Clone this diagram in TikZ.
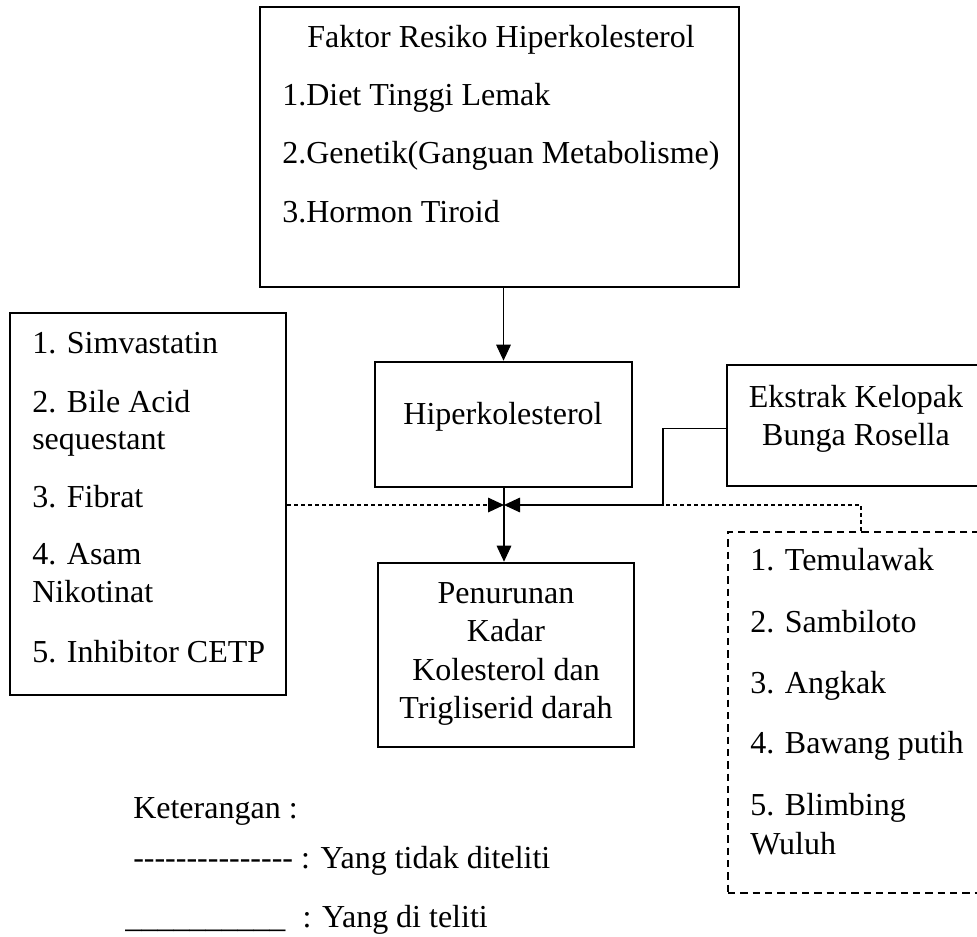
\documentclass[tikz,border=0pt]{standalone}
\usepackage{fontspec}
\setmainfont{Liberation Serif}[Ligatures=TeXOff]
\usetikzlibrary{arrows.meta,fit}
\begin{document}
\begin{tikzpicture}[x=0.75pt,y=-0.75pt,
  box/.style={draw, line width=2pt, inner sep=0pt, rectangle},
  dbox/.style={draw, line width=2pt, inner sep=0pt, rectangle, dash pattern=on 5.5pt off 3.75pt},
  tip/.style={-{Triangle[length=12pt,width=11pt]}},
  conn/.style={line width=0.8pt},
  dconn/.style={line width=0.8pt, dash pattern=on 3pt off 2.25pt},
  txt/.style={font=\fontsize{24}{28.5}\selectfont, inner sep=0pt, anchor=base west},
  ctxt/.style={font=\fontsize{24}{28.5}\selectfont, inner sep=0pt, anchor=base},
]
\useasboundingbox (0,0) rectangle (977,936);
\clip (0,0) rectangle (977,936);

% boxes
\node[box, fit={(260,7) (739,287)}] (top) {};
\node[box, fit={(375,362) (632,487)}] (hip) {};
\node[box, fit={(10,313) (286,695)}] (left) {};
\node[box, fit={(378,563) (634,747)}] (pen) {};
\node[box, fit={(727,365) (985,486)}] (eks) {};
\node[dbox, fit={(728,532) (994,893)}] (dbx) {};

% top box text
\node[ctxt] (t0) at (501,47) {Faktor Resiko Hiperkolesterol};
\node[txt] (t1) at (282,105) {1.Diet Tinggi Lemak};
\node[txt] (t2) at (282,163) {2.Genetik(Ganguan Metabolisme)};
\node[txt] (t3) at (282,222) {3.Hormon Tiroid};

% hiperkolesterol
\node[ctxt] (h0) at (503,424) {Hiperkolesterol};

% left box text
\node[txt] (l1) at (32,353) {1. Simvastatin};
\node[txt] (l2) at (32,412) {2. Bile Acid};
\node[txt] (l2b) at (32,449) {sequestant};
\node[txt] (l3) at (32,507) {3. Fibrat};
\node[txt] (l4) at (32,564) {4. Asam};
\node[txt] (l4b) at (32,602) {Nikotinat};
\node[txt] (l5) at (32,662) {5. Inhibitor CETP};

% penurunan text
\node[ctxt] (p1) at (506,603) {Penurunan};
\node[ctxt] (p2) at (506,641) {Kadar};
\node[ctxt] (p3) at (506,680) {Kolesterol dan};
\node[ctxt] (p4) at (506,718) {Trigliserid darah};

% ekstrak text
\node[ctxt] (e1) at (856,407) {Ekstrak Kelopak};
\node[ctxt] (e2) at (856,445) {Bunga Rosella};

% dashed box text
\node[txt] (d1) at (750,570) {1. Temulawak};
\node[txt] (d2) at (750,632) {2. Sambiloto};
\node[txt] (d3) at (750,693) {3. Angkak};
\node[txt] (d4) at (750,753) {4. Bawang putih};
\node[txt] (d5) at (750,815) {5. Blimbing};
\node[txt] (d5b) at (750,854) {Wuluh};

% legend
\node[txt] (ket) at (133,818) {Keterangan :};
\node[txt] (leg1) at (133,868) {--------------- : Yang tidak diteliti};
\node[txt] (leg2) at (125,927) {\_\_\_\_\_\_\_\_\_\_\hspace{13pt}: Yang di teliti};

% connectors
\coordinate (j) at (504,505);
\coordinate (bend) at (663,505);
\draw[conn, tip] (top.south -| hip.north) -- (hip.north);
\draw[conn, tip] (hip.south -| j) -- (pen.north -| j);
\draw[dconn, tip] (left.east |- j) -- (j);
\draw[conn, tip] ([yshift=-2.5pt]eks.west) -| (bend) -- (j);
\draw[dconn] (dbx.north) |- (bend);
\end{tikzpicture}
\end{document}
